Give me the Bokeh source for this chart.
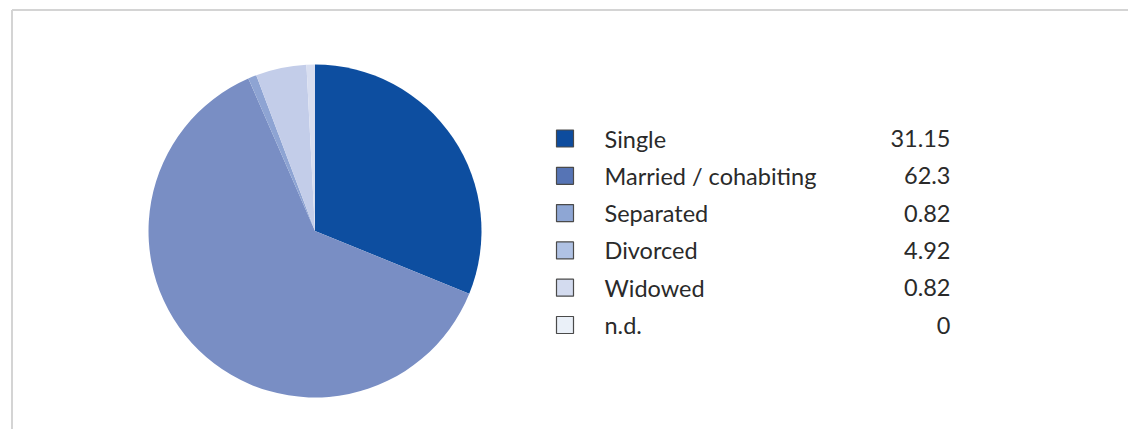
import math
from bokeh.plotting import figure
from bokeh.models import Range1d, ColumnDataSource
from bokeh.core.properties import value
from bokeh.embed import file_html
from bokeh.resources import INLINE

categories = ["Single", "Married / cohabiting", "Separated", "Divorced", "Widowed", "n.d."]
values = [31.15, 62.3, 0.82, 4.92, 0.82, 0]
value_labels = ["31.15", "62.3", "0.82", "4.92", "0.82", "0"]
pie_colors = ["#0D4EA0", "#798EC4", "#8EA4D3", "#C3CDE9", "#D8DEF0", "#EAF0F8"]
swatch_colors = ["#0D4C9E", "#5674B5", "#8EA6D4", "#B0C2E4", "#D3DBEF", "#EAF0F8"]

W, H = 1128, 429
p = figure(width=W, height=H, output_backend="svg", toolbar_location=None,
           x_range=Range1d(0, W), y_range=Range1d(0, H), min_border=0)
p.axis.visible = False
p.grid.visible = False
p.outline_line_color = None
p.background_fill_color = "white"

def Y(y):
    return H - y

# frame (left + top edges)
p.segment(x0=[11.5, 11.5], y0=[Y(9.5), Y(9.5)], x1=[11.5, W + 5], y1=[Y(H + 5), Y(9.5)],
          line_color="#D4D4D4", line_width=2)

# pie
total = sum(values)
cx, cy, r = 314.5, Y(230.5), 166.5
starts, ends = [], []
acc = 0.0
for v in values:
    starts.append(math.pi / 2 - acc / total * 2 * math.pi)
    acc += v
    ends.append(math.pi / 2 - acc / total * 2 * math.pi)
mask = [i for i, v in enumerate(values) if v > 0]
src = ColumnDataSource(dict(x=[cx] * len(mask), y=[cy] * len(mask),
                            s=[starts[i] for i in mask], e=[ends[i] for i in mask],
                            c=[pie_colors[i] for i in mask]))
p.wedge(x="x", y="y", radius=r, start_angle="s", end_angle="e", direction="clock",
        fill_color="c", line_color=None, source=src)

# legend
row0, step = 138.0, 37.3
ys = [Y(row0 + step * i) for i in range(len(categories))]
p.rect(x=[564.5] * len(categories), y=ys, width=17, height=17,
       fill_color=swatch_colors, line_color="#4A4A4A", line_width=1.2)
p.text(x=[604] * len(categories), y=ys, text=categories, text_font=value("Lato"),
       text_font_size="23.5px", text_baseline="middle", text_align="left", text_color="#2A2A2A")
p.text(x=[950] * len(categories), y=ys, text=value_labels, text_font=value("Lato"),
       text_font_size="23.5px", text_baseline="middle", text_align="right", text_color="#2A2A2A")

open("out.html", "w").write(file_html(p, INLINE))
